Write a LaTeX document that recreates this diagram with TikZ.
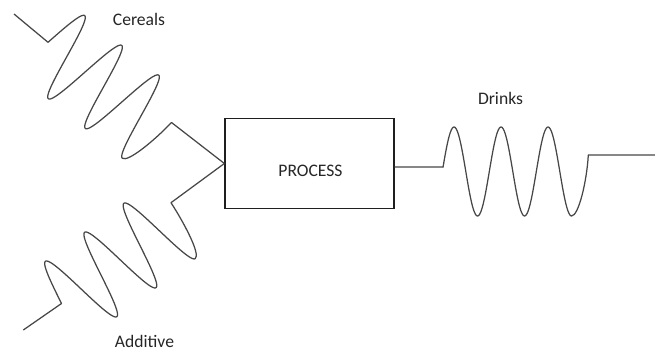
\documentclass[tikz,border=0pt]{standalone}
\usepackage{fontspec}
\setmainfont{Carlito}
\begin{document}
\begin{tikzpicture}[x=1pt,y=1pt,
  wave/.style={draw=black!72, line width=1.25pt, line join=round},
  boxstyle/.style={draw=black!88, line width=1.3pt, minimum width=169pt, minimum height=89.5pt, inner sep=0pt},
  lbl/.style={font=\fontsize{17.6}{20}\selectfont, text=black!85, anchor=base, inner sep=0pt}]
\useasboundingbox (0,0) rectangle (655,-350);
% box and labels
\node[boxstyle] (proc) at (309.5,-163.5) {};
\node[lbl] (proclbl) at (310.5,-176) {PROCESS};
\node[lbl] (cereals) at (139,-26) {Cereals};
\node[lbl] (additive) at (144.5,-347) {Additive};
\node[lbl] (drinks) at (500.5,-105) {Drinks};
% connector points
\coordinate (cin) at (14,-14);
\coordinate (cs) at (48,-42.3);
\coordinate (cc) at (171.5,-122.5);
\coordinate (ain) at (23.3,-330);
\coordinate (as) at (61.5,-303.5);
\coordinate (ac) at (171,-202.7);
\coordinate (ds) at (443,-167);
\coordinate (dm) at (442.3,-171.5);
\coordinate (dc) at (588.3,-155);
\coordinate (dout) at (655,-155);
% Cereals wave
\begin{scope}[shift={(cs)}, rotate=-38.8]
  \draw[wave] (cin) -- plot[domain=0:2.75, samples=140, smooth] ({\x*47.5},{43.8*sin(\x*360)})
    .. controls (137.6,-43.8) and (144.6,-8.8) .. (cc) -- (proc.west);
\end{scope}
% Additive wave
\begin{scope}[shift={(as)}, rotate=36.5]
  \draw[wave] (ain) -- plot[domain=0:2.75, samples=140, smooth] ({\x*48.8},{43.5*sin(\x*360)})
    .. controls (141.2,-43.5) and (146.5,-8) .. (ac) -- (proc.west);
\end{scope}
% Drinks wave
\begin{scope}[shift={(dm)}]
  \draw[wave] (ds -| proc.east) -- (ds) -- plot[domain=0.015:2.75, samples=140, smooth] ({\x*47},{44.5*sin(\x*360)})
    .. controls (136.25,-44.5) and (144.5,-10) .. (dc) -- (dout);
\end{scope}
\end{tikzpicture}
\end{document}
